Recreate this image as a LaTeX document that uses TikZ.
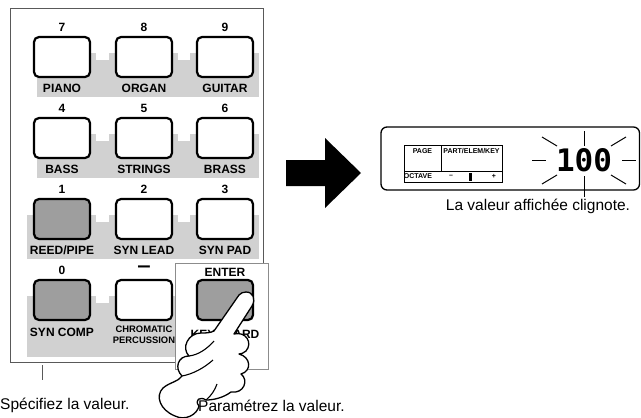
\documentclass[tikz,border=0pt]{standalone}
\usepackage{fontspec}
\setmainfont{Liberation Sans}
\newfontfamily\lcdfont{DejaVu Sans Mono}
\usetikzlibrary{calc}

\definecolor{backing}{gray}{0.82}
\definecolor{keygray}{gray}{0.62}
\definecolor{framegray}{gray}{0.35}
\definecolor{boxgray}{gray}{0.55}

\tikzset{
  keybtn/.style={draw=black, line width=2.2pt, rounded corners=5pt, fill=white,
                 minimum width=56pt, minimum height=40pt, inner sep=0pt},
  keyon/.style={keybtn, fill=keygray},
  numlbl/.style={font=\fontsize{12}{14}\selectfont\bfseries, inner sep=0pt},
  keylbl/.style={font=\fontsize{12}{14}\selectfont\bfseries, inner sep=0pt},
  smalllbl/.style={font=\fontsize{9.4}{11.5}\selectfont\bfseries, inner sep=0pt, align=center},
  lcdlbl/.style={font=\fontsize{7}{8}\selectfont\bfseries, inner sep=0pt},
  caption/.style={font=\fontsize{15.5}{18}\selectfont, inner sep=0pt},
  ray/.style={line width=1pt},
}

\begin{document}
\begin{tikzpicture}[x=1pt,y=-1pt]
\useasboundingbox (0,0) rectangle (641,418);

% ---------- key panel ----------
\draw[framegray, line width=1pt] (10,8) rectangle (263,362);

% grey label strips behind each row of keys
\foreach \T/\B/\gl in {36/97/36.5, 117/178/36.5, 198/259/27, 279/357/27} {
  \fill[backing] (\gl,\T+17) rectangle (95.5,\B);
  \fill[backing] (108.5,\T+17) rectangle (177.5,\B);
  \fill[backing] (189.5,\T+17) rectangle (258.5,\B);
  \fill[backing] (\gl,\T+24) rectangle (258.5,\B);
}

% row 7 8 9
\node[keybtn] (k7) at (62,57)  {};
\node[keybtn] (k8) at (144,57) {};
\node[keybtn] (k9) at (225,57) {};
\node[numlbl] (n7) at (62,27)  {7};
\node[numlbl] (n8) at (144,27) {8};
\node[numlbl] (n9) at (225,27) {9};
\node[keylbl] (l7) at (62,88)  {PIANO};
\node[keylbl] (l8) at (144,88) {ORGAN};
\node[keylbl] (l9) at (225,88) {GUITAR};

% row 4 5 6
\node[keybtn] (k4) at (62,138)  {};
\node[keybtn] (k5) at (144,138) {};
\node[keybtn] (k6) at (225,138) {};
\node[numlbl] (n4) at (62,108)  {4};
\node[numlbl] (n5) at (144,108) {5};
\node[numlbl] (n6) at (225,108) {6};
\node[keylbl] (l4) at (62,169)  {BASS};
\node[keylbl] (l5) at (144,169) {STRINGS};
\node[keylbl] (l6) at (225,169) {BRASS};

% row 1 2 3
\node[keyon]  (k1) at (62,219)  {};
\node[keybtn] (k2) at (144,219) {};
\node[keybtn] (k3) at (225,219) {};
\node[numlbl] (n1) at (62,189)  {1};
\node[numlbl] (n2) at (144,189) {2};
\node[numlbl] (n3) at (225,189) {3};
\node[keylbl] (l1) at (62,250)  {REED/PIPE};
\node[keylbl] (l2) at (144,250) {SYN LEAD};
\node[keylbl] (l3) at (225,250) {SYN PAD};

% row 0 -
\node[keyon]  (k0) at (62,300)  {};
\node[keybtn] (km) at (144,300) {};
\node[numlbl] (n0) at (62,270)  {0};
\node[font=\fontsize{16}{16}\selectfont\bfseries, inner sep=0pt] (nm) at (144,269) {\scalebox{1.5}[1.3]{–}};
\node[keylbl] (l0) at (62,332)  {SYN COMP};
\node[smalllbl] (lm) at (144,335) {CHROMATIC\\PERCUSSION};

% ENTER group
\draw[boxgray, line width=1pt, fill=white] (175,263) rectangle (268,369);
\node[keyon]  (ke) at (225,300) {};
\node[keylbl] (ne) at (225,272) {ENTER};
\node[keylbl] (le) at (225,334) {KEYBOARD};

% leader under the panel
\coordinate (pt) at (42,365);
\coordinate (pb) at (42,380);
\draw[framegray, line width=0.8pt] (pt) -- (pb);
\node[caption, anchor=west] (cap1) at (0,405) {Spécifiez la valeur.};

% pointing hand
\draw[line width=1.3pt, fill=white, line join=round]
  (246,292) .. controls (253,292) and (256,299) .. (252,306)
  -- (234,334)
  .. controls (246,331) and (253,343) .. (246,351)
  .. controls (244,353) and (241,354) .. (239,354)
  .. controls (251,357) and (252,371) .. (241,374)
  .. controls (249,380) and (244,394) .. (231,392)
  .. controls (223,398) and (213,400) .. (206,400)
  .. controls (200,396) and (194,400) .. (199,406)
  .. controls (197,415) and (185,421) .. (175,416)
  .. controls (160,410) and (155,396) .. (163,388)
  .. controls (170,382) and (178,382) .. (182,376)
  .. controls (174,368) and (178,356) .. (189,356)
  .. controls (181,348) and (188,333) .. (201,333)
  .. controls (206,333) and (210,333) .. (214,331)
  -- (239,295)
  .. controls (241,293) and (243,292) .. (246,292) -- cycle;
\draw[line width=1.1pt] (189,356) .. controls (198,355) and (207,349) .. (214,341);
\draw[line width=1.1pt] (182,376) .. controls (193,374) and (204,368) .. (213,360);
\draw[line width=1.1pt] (206,400) .. controls (211,396) and (215,390) .. (217,384);
\node[caption, anchor=west] (cap2) at (198,406) {Paramétrez la valeur.};

% ---------- arrow ----------
\fill[black] (286,160) -- (325,160) -- (325,138) -- (361,173) -- (325,208)
  -- (325,186) -- (286,186) -- cycle;

% ---------- display ----------
\draw[line width=1.3pt, rounded corners=6pt] (381,127) rectangle (639.5,190);
\draw[line width=0.8pt] (404,145) rectangle (502,182);
\draw[line width=0.8pt] (441,145) -- (441,171);
\draw[line width=0.8pt] (404,171) -- (502,171);
\node[lcdlbl] (pg) at (422.5,151) {PAGE};
\node[lcdlbl] (pk) at (471.5,151) {PART/ELEM/KEY};
\node[lcdlbl] (oc) at (418,176.5) {OCTAVE};
\node[lcdlbl] (om) at (451,176.5) {–};
\fill (469,172.5) rectangle (471.8,180.5);
\node[lcdlbl] (op) at (494,176.5) {+};

\node[font=\fontsize{31}{31}\selectfont\lcdfont\bfseries, inner sep=0pt] (val) at (584,160) {100};
\coordinate (vb) at (584,197);
\draw[ray] (584,131) -- (584,146);
\draw[ray] (542,137) -- (557,146);
\draw[ray] (611,146) -- (626,137);
\draw[ray] (532,160) -- (546,160);
\draw[ray] (622,160) -- (636,160);
\draw[ray] (542,184) -- (557,175);
\draw[ray] (611,175) -- (626,184);
\draw[ray] (584,176) -- (vb);
\node[caption] (cap3) at (538,206) {La valeur affichée clignote.};
\end{tikzpicture}
\end{document}
